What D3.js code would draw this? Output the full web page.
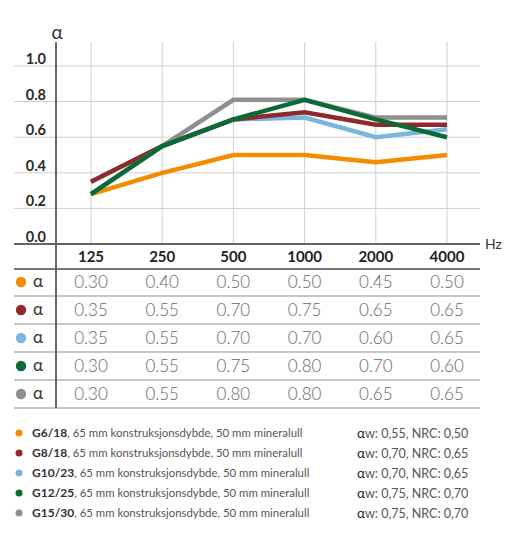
<!DOCTYPE html>
<html><head><meta charset="utf-8">
<script src="https://cdn.jsdelivr.net/npm/d3@7"></script>
<style>body{margin:0;background:#fff}svg{display:block}</style>
</head><body>
<svg id="c" width="516" height="545"></svg>
<script>
const categories = ["125","250","500","1000","2000","4000"];
const yTicks = [0, 0.2, 0.4, 0.6, 0.8, 1.0];
const seriesNames = ["G6/18","G8/18","G10/23","G12/25","G15/30"];
const seriesColors = ["#f28c00","#8e2a2c","#7ab6dc","#0b6a36","#8f8f8f"];
// line values as drawn in the graph
const lineG6 = [0.28, 0.40, 0.50, 0.50, 0.46, 0.50];
const lineG8 = [0.35, 0.55, 0.70, 0.74, 0.67, 0.67];
const lineG10 = [0.35, 0.55, 0.70, 0.71, 0.60, 0.645];
const lineG12 = [0.28, 0.55, 0.70, 0.81, 0.70, 0.60];
const lineG15 = [0.28, 0.55, 0.81, 0.81, 0.71, 0.71];
// table values
const tableG6 = ["0.30","0.40","0.50","0.50","0.45","0.50"];
const tableG8 = ["0.35","0.55","0.70","0.75","0.65","0.65"];
const tableG10 = ["0.35","0.55","0.70","0.70","0.60","0.65"];
const tableG12 = ["0.30","0.55","0.75","0.80","0.70","0.60"];
const tableG15 = ["0.30","0.55","0.80","0.80","0.65","0.65"];
const legendDesc = ", 65 mm konstruksjonsdybde, 50 mm mineralull";
const legendAw = ["0,55","0,70","0,70","0,75","0,75"];
const legendNrc = ["0,50","0,65","0,65","0,70","0,70"];

const lines = [lineG6, lineG8, lineG10, lineG12, lineG15];
const tables = [tableG6, tableG8, tableG10, tableG12, tableG15];

const svg = d3.select("#c");
const x = d3.scalePoint().domain(categories).range([91, 447]);
const y = d3.scaleLinear().domain([0, 1]).range([244, 66]);
const left = 14, right = 480;
const font = "Lato, 'Open Sans', sans-serif";

// horizontal grid
svg.append("g").selectAll("line").data(yTicks.filter(d => d > 0)).join("line")
  .attr("x1", left).attr("x2", right).attr("y1", d => y(d)).attr("y2", d => y(d))
  .attr("stroke", "#cfcfcf").attr("stroke-width", 1);
// vertical grid
svg.append("g").selectAll("line").data(categories).join("line")
  .attr("x1", d => x(d)).attr("x2", d => x(d)).attr("y1", 42).attr("y2", 244)
  .attr("stroke", "#cfcfcf").attr("stroke-width", 1);

// y tick labels
svg.append("g").selectAll("text").data(yTicks).join("text")
  .attr("x", 46).attr("y", d => y(d) - 2).attr("text-anchor", "end")
  .attr("font-family", font).attr("font-weight", 700).attr("font-size", 14.5)
  .attr("fill", "#2a2a2a").text(d => d.toFixed(1));

svg.append("text").attr("x", 57).attr("y", 39).attr("text-anchor", "middle")
  .attr("font-family", font).attr("font-size", 19).attr("fill", "#333").text("α");

// lines
const lineGen = d3.line().x((d, i) => x(categories[i])).y(d => y(d));
const order = [0, 2, 1, 4, 3];
svg.append("g").selectAll("path").data(order).join("path")
  .attr("d", i => lineGen(lines[i])).attr("fill", "none")
  .attr("stroke", i => seriesColors[i]).attr("stroke-width", 4.5)
  .attr("stroke-linejoin", "miter").attr("stroke-linecap", "butt");

// table
const rowY = d3.scaleBand().domain(d3.range(5)).range([268, 408]);
svg.append("g").selectAll("line").data(d3.range(5)).join("line")
  .attr("x1", left).attr("x2", right)
  .attr("y1", i => rowY(i) + rowY.bandwidth()).attr("y2", i => rowY(i) + rowY.bandwidth())
  .attr("stroke", "#b5b5b5").attr("stroke-width", 1.5);
svg.append("line").attr("x1", left).attr("x2", right).attr("y1", 269).attr("y2", 269)
  .attr("stroke", "#777").attr("stroke-width", 2);

// axes
svg.append("line").attr("x1", left).attr("x2", right).attr("y1", 244).attr("y2", 244)
  .attr("stroke", "#666").attr("stroke-width", 2);
svg.append("line").attr("x1", 56).attr("x2", 56).attr("y1", 42).attr("y2", 408)
  .attr("stroke", "#666").attr("stroke-width", 2);
svg.append("text").attr("x", 485).attr("y", 249)
  .attr("font-family", font).attr("font-size", 14).attr("fill", "#333").text("Hz");

// header
svg.append("g").selectAll("text").data(categories).join("text")
  .attr("x", d => x(d)).attr("y", 262).attr("text-anchor", "middle")
  .attr("font-family", font).attr("font-weight", 700).attr("font-size", 15)
  .attr("fill", "#222").text(d => d);

// rows
const rows = svg.append("g").selectAll("g").data(d3.range(5)).join("g")
  .attr("transform", i => `translate(0,${rowY(i) + rowY.bandwidth() / 2})`);
rows.append("circle").attr("cx", 21).attr("cy", 0).attr("r", 5.2)
  .attr("fill", i => seriesColors[i]);
rows.append("text").attr("x", 33).attr("y", 5).attr("font-family", font)
  .attr("font-size", 17).attr("fill", "#333").text("α");
rows.selectAll("text.v").data(i => tables[i]).join("text").attr("class", "v")
  .attr("x", (d, j) => x(categories[j])).attr("y", 6).attr("text-anchor", "middle")
  .attr("font-family", font).attr("font-weight", 300).attr("font-size", 17)
  .attr("fill", "#666").text(d => d);

// legend
const leg = svg.append("g").selectAll("g").data(d3.range(5)).join("g")
  .attr("transform", i => `translate(0,${433 + i * 20})`);
leg.append("circle").attr("cx", 19).attr("cy", 0).attr("r", 3.5).attr("fill", i => seriesColors[i]);
const lt = leg.append("text").attr("x", 32).attr("y", 4.2).attr("font-family", font)
  .attr("font-size", 11.4).attr("fill", "#555");
lt.append("tspan").attr("font-weight", 700).attr("fill", "#333").attr("font-size", 12).text(i => seriesNames[i]);
lt.append("tspan").text(legendDesc);
const rt = leg.append("text").attr("x", 357).attr("y", 4.5).attr("font-family", font)
  .attr("font-size", 12.5).attr("fill", "#555");
rt.append("tspan").attr("fill", "#222").attr("font-size", 13.5).text("α");
rt.append("tspan").text(i => `w: ${legendAw[i]}, NRC: ${legendNrc[i]}`);
</script>
</body></html>
